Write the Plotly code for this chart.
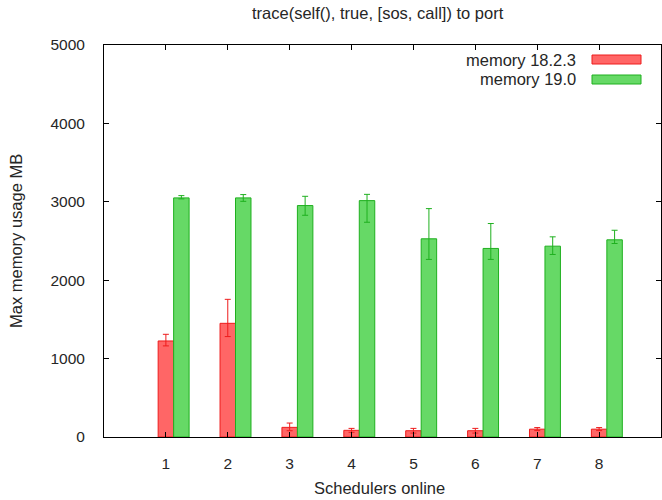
import plotly.graph_objects as go

# ---- data ----
schedulers = [1, 2, 3, 4, 5, 6, 7, 8]
series_names = ["memory 18.2.3", "memory 19.0"]
mem_18 = [1225, 1450, 123, 85, 80, 80, 100, 100]
mem_18_high = [1310, 1756, 178, 110, 110, 110, 120, 120]
mem_18_low = [1162, 1281, 80, 60, 50, 50, 82, 82]
mem_19 = [3050, 3050, 2952, 3015, 2528, 2405, 2434, 2515]
mem_19_high = [3079, 3092, 3070, 3095, 2913, 2723, 2553, 2637]
mem_19_low = [3037, 3006, 2828, 2739, 2265, 2265, 2328, 2468]
y_ticks = [0, 1000, 2000, 3000, 4000, 5000]

# ---- layout geometry (pixels) ----
W, H = 662, 500
L, R, T, B = 104, 1, 45, 63
PW, PH = W - L - R, H - T - B

def px(x):
    return (x - L) / PW

def py(y):
    return 1 - (y - T) / PH

FONT = "Liberation Sans, Arial, sans-serif"
TXT = "#262626"
TS = 16.5

red_fill = "#ff6666"
red_line = "#ee1c1c"
green_fill = "#66d966"
green_line = "#1fb01f"

fig = go.Figure()

def add_series(name, vals, hi, lo, offset, fill, line):
    fig.add_trace(go.Bar(
        x=schedulers, y=vals, name=name,
        width=0.25, offset=offset,
        marker=dict(color=fill, line=dict(color=line, width=1)),
        error_y=dict(type="data", symmetric=False,
                     array=[h - v for h, v in zip(hi, vals)],
                     arrayminus=[v - l for v, l in zip(vals, lo)],
                     color=line, thickness=1, width=3),
        showlegend=False,
    ))

add_series(series_names[0], mem_18, mem_18_high, mem_18_low, -0.125, red_fill, red_line)
add_series(series_names[1], mem_19, mem_19_high, mem_19_low, 0.125, green_fill, green_line)

fig.update_layout(
    width=W, height=H,
    margin=dict(l=L, r=R, t=T, b=B, pad=0),
    paper_bgcolor="white", plot_bgcolor="white",
    barmode="overlay",
    font=dict(family=FONT, size=15, color=TXT),
    xaxis=dict(range=[0, 9], tickvals=schedulers, ticktext=[str(s) for s in schedulers],
               ticks="inside", ticklen=5, tickcolor="#000", showgrid=False, zeroline=False,
               showline=True, linecolor="#000", linewidth=1, mirror="ticks",
               ticklabelstandoff=12, tickfont=dict(size=15.5, color=TXT)),
    yaxis=dict(range=[0, 5000], tickvals=y_ticks, ticktext=[str(v) for v in y_ticks],
               ticks="inside", ticklen=5, tickcolor="#000", showgrid=False, zeroline=False,
               showline=True, linecolor="#000", linewidth=1, mirror="ticks",
               ticklabelstandoff=15, tickfont=dict(size=15.5, color=TXT)),
)

ann = []
ann.append(dict(text="trace(self(), true, [sos, call]) to port", xref="paper", yref="paper",
                x=px(378), y=py(13), showarrow=False, xanchor="center", yanchor="middle",
                font=dict(size=TS, color=TXT)))
ann.append(dict(text="Schedulers online", xref="paper", yref="paper",
                x=px(379), y=py(488), showarrow=False, xanchor="center", yanchor="middle",
                font=dict(size=TS, color=TXT)))
ann.append(dict(text="Max memory usage MB", xref="paper", yref="paper",
                x=px(16), y=py(241), showarrow=False, xanchor="center", yanchor="middle",
                textangle=-90, font=dict(size=TS, color=TXT)))

shapes = []
legend_rows = [(series_names[0], 59.5, red_fill, red_line),
               (series_names[1], 79.5, green_fill, green_line)]
for name, yc, fill, line in legend_rows:
    ann.append(dict(text=name, xref="paper", yref="paper", x=px(578), y=py(yc),
                    showarrow=False, xanchor="right", yanchor="middle",
                    font=dict(size=TS, color=TXT)))
    shapes.append(dict(type="rect", xref="paper", yref="paper",
                       x0=px(592), x1=px(641), y0=py(yc - 4.5), y1=py(yc + 4.5),
                       fillcolor=fill, line=dict(color=line, width=1)))

fig.update_layout(annotations=ann, shapes=shapes)
fig.write_html("out.html")
